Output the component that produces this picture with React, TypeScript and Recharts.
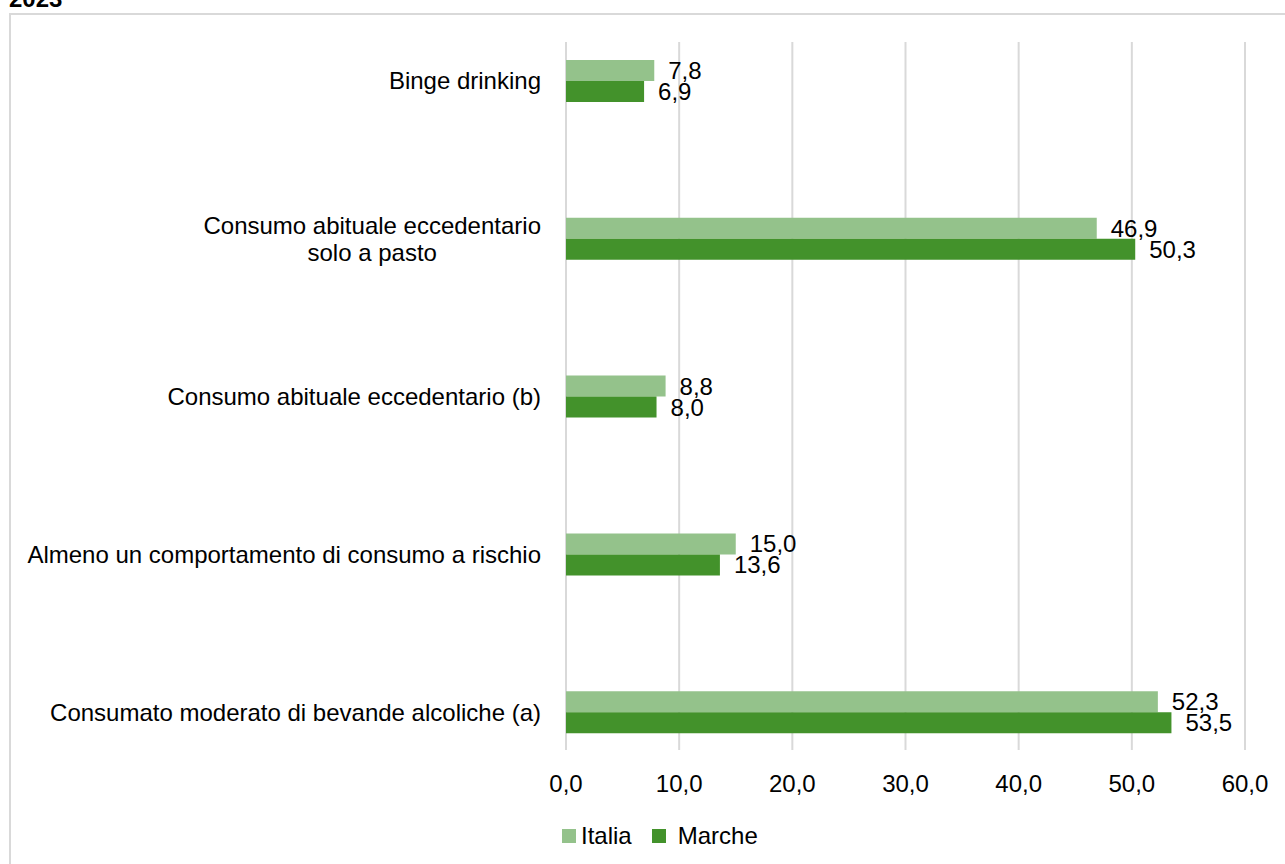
import React from "react";
import { BarChart, Bar, XAxis, YAxis, CartesianGrid, LabelList, Legend } from "recharts";

const categories = [
  "Binge drinking",
  "Consumo abituale eccedentario\nsolo a pasto",
  "Consumo abituale eccedentario (b)",
  "Almeno un comportamento di consumo a rischio",
  "Consumato moderato di bevande alcoliche (a)",
];
const italia = [7.8, 46.9, 8.8, 15.0, 52.3];
const marche = [6.9, 50.3, 8.0, 13.6, 53.5];
const xTicks = [0, 10, 20, 30, 40, 50, 60];
const seriesNames = ["Italia", "Marche"];
const title = "2023";

const data = categories.map((c, i) => ({ cat: c, Italia: italia[i], Marche: marche[i] }));

const FONT = "'Liberation Sans', Arial, sans-serif";
const LIGHT = "#94C28B";
const DARK = "#43922B";

const fmt = (v: any) => Number(v).toFixed(1).replace(".", ",");

let ctx: CanvasRenderingContext2D | null = null;
const measure = (s: string) => {
  if (!ctx) {
    const c = document.createElement("canvas");
    ctx = c.getContext("2d");
  }
  if (!ctx) return s.length * 12;
  ctx.font = `24px ${FONT}`;
  return ctx.measureText(s).width;
};

const CatTick = (props: any) => {
  const { x, y, payload } = props;
  const lines: string[] = String(payload.value).split("\n");
  if (lines.length === 1) {
    return (
      <text x={x} y={y} dy="0.355em" textAnchor="end" fontSize={24} fontFamily={FONT} fill="#000">
        {lines[0]}
      </text>
    );
  }
  const maxW = Math.max(...lines.map(measure));
  const lh = 27;
  const start = y - ((lines.length - 1) * lh) / 2;
  return (
    <g>
      {lines.map((l, i) => (
        <text key={i} x={x - maxW / 2} y={start + i * lh} dy="0.355em" textAnchor="middle" fontSize={24} fontFamily={FONT} fill="#000">
          {l}
        </text>
      ))}
    </g>
  );
};

const LegendContent = () => (
  <div style={{ display: "flex", alignItems: "center", fontFamily: FONT, fontSize: 24, color: "#000", whiteSpace: "nowrap" }}>
    <span style={{ display: "inline-block", width: 14, height: 14, background: LIGHT, marginRight: 5 }} />
    <span style={{ marginRight: 20 }}>{seriesNames[0]}</span>
    <span style={{ display: "inline-block", width: 14, height: 14, background: DARK, marginRight: 12 }} />
    <span>{seriesNames[1]}</span>
  </div>
);

export default function App() {
  return (
    <div style={{ position: "fixed", left: 0, top: 0, width: 1285, height: 864, overflow: "hidden", background: "#fff" }}>
      <div style={{ position: "absolute", left: 0, top: 0, width: 1285, height: 864 }}>
        <BarChart
          width={1285}
          height={864}
          data={data}
          layout="vertical"
          margin={{ top: 42, right: 40, bottom: 0, left: 0 }}
          barGap={0}
          barSize={21}
        >
          <CartesianGrid horizontal={false} stroke="#d9d9d9" strokeWidth={2} />
          <XAxis
            type="number"
            domain={[0, 60]}
            ticks={xTicks}
            tickFormatter={fmt}
            axisLine={false}
            tickLine={false}
            tickSize={0}
            tickMargin={25}
            height={60}
            tick={{ fontSize: 24, fontFamily: FONT, fill: "#000" }}
          />
          <YAxis
            type="category"
            dataKey="cat"
            width={566}
            axisLine={false}
            tickLine={false}
            tickSize={0}
            tickMargin={25}
            padding={{ top: -40, bottom: -41 }}
            tick={<CatTick />}
            interval={0}
          />
          <Legend
            verticalAlign="bottom"
            height={54}
            content={<LegendContent />}
            wrapperStyle={{ left: 562, top: 822, width: "auto" }}
          />
          <Bar dataKey="Italia" fill={LIGHT} isAnimationActive={false}>
            <LabelList dataKey="Italia" position="right" offset={14} formatter={fmt} fontSize={24} fontFamily={FONT} fill="#000" />
          </Bar>
          <Bar dataKey="Marche" fill={DARK} isAnimationActive={false}>
            <LabelList dataKey="Marche" position="right" offset={14} formatter={fmt} fontSize={24} fontFamily={FONT} fill="#000" />
          </Bar>
        </BarChart>
      </div>
      <div style={{ position: "absolute", left: 9, top: 13, width: 2000, height: 2000, border: "2px solid #d9d9d9", pointerEvents: "none" }} />
      <div style={{ position: "absolute", left: 9, top: -13, zIndex: 10, fontFamily: FONT, fontWeight: 700, fontSize: 24, lineHeight: "24px", color: "#000" }}>
        {title}
      </div>
    </div>
  );
}
